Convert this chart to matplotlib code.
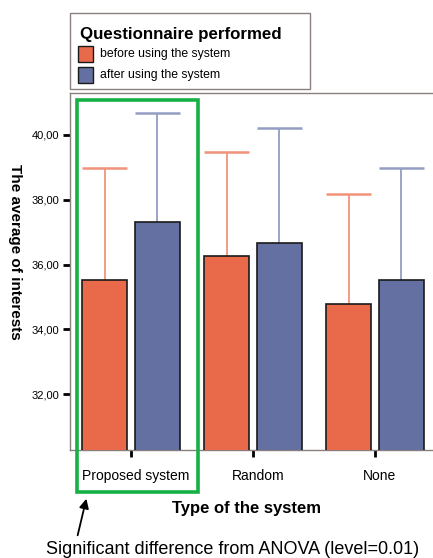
import matplotlib.pyplot as plt
from matplotlib.patches import Rectangle
import matplotlib.transforms as mtransforms
import numpy as np

plt.rcParams['font.family'] = ['Liberation Sans', 'DejaVu Sans']

# data
systems = ["Proposed system", "Random", "None"]
before_mean = [35.52, 36.26, 34.78]
before_upper = [38.98, 39.48, 38.18]
after_mean = [37.32, 36.66, 35.52]
after_upper = [40.68, 40.22, 38.97]
y_ticks = [32, 34, 36, 38, 40]
legend_title = "Questionnaire performed"
legend_labels = ["before using the system", "after using the system"]

c_before = "#e96a4a"
c_after = "#6470a1"
c_before_err = "#f2927b"
c_after_err = "#949dc2"
frame_col = "#8a7f7f"

W, H = 433, 558
fig = plt.figure(figsize=(W / 100, H / 100), dpi=100)

def px(x0, y0, x1, y1):
    return [x0 / W, 1 - y1 / H, (x1 - x0) / W, (y1 - y0) / H]

ax = fig.add_axes(px(70, 93, 436, 450))
ax.set_xlim(-0.5, 2.5)
ax.set_ylim(30.28, 41.29)

x = np.arange(len(systems))
off, bw = 0.215, 0.37
base = 29.0
for xs, means, ups, c, ce in [(x - off, before_mean, before_upper, c_before, c_before_err),
                               (x + off, after_mean, after_upper, c_after, c_after_err)]:
    ax.bar(xs, np.array(means) - base, bottom=base, width=bw, color=c,
           edgecolor="#1a1a1a", linewidth=1.2, zorder=3)
    # upper error bars only
    ax.vlines(xs, means, ups, color=ce, linewidth=1.3, zorder=2)
    ax.hlines(ups, xs - bw / 2, xs + bw / 2, color=ce, linewidth=1.8, zorder=2)

for s in ax.spines.values():
    s.set_color(frame_col)
    s.set_linewidth(1.0)

ax.set_yticks(y_ticks)
ax.set_yticklabels([f"{v:.2f}".replace(".", ",") for v in y_ticks], fontsize=8)
ax.set_xticks(x)
ax.set_xticklabels(systems, fontsize=10)
ax.tick_params(axis="y", length=5, width=2, color="black", pad=3)
ax.tick_params(axis="x", length=5, width=2, color="black", pad=9)
shift = mtransforms.ScaledTranslation(5 / 100, 0, fig.dpi_scale_trans)
for lab in ax.get_xticklabels():
    lab.set_transform(lab.get_transform() + shift)

fig.text(15 / W, 1 - 252 / H, "The average of interests", rotation=-90,
         ha="center", va="center", fontsize=11, fontweight="bold")
fig.text(246 / W, 1 - 509 / H, "Type of the system", ha="center", va="center",
         fontsize=12, fontweight="bold")

# legend box drawn by hand to match the reference frame
fig.add_artist(Rectangle((70 / W, 1 - 89 / H), 240 / W, 76 / H, transform=fig.transFigure,
                         fill=False, edgecolor=frame_col, linewidth=1.0))
fig.text(80 / W, 1 - 34 / H, legend_title, ha="left", va="center",
         fontsize=12.2, fontweight="bold")
for i, (lab, c) in enumerate(zip(legend_labels, [c_before, c_after])):
    yc = 54 + i * 21
    fig.add_artist(Rectangle((78 / W, 1 - (yc + 8) / H), 15 / W, 16 / H,
                             transform=fig.transFigure, facecolor=c,
                             edgecolor="#1a1a1a", linewidth=1.0))
    fig.text(100 / W, 1 - yc / H, lab, ha="left", va="center", fontsize=8.8)

# highlight box and note
fig.add_artist(Rectangle((77 / W, 1 - 492 / H), 121 / W, 392 / H, transform=fig.transFigure,
                         fill=False, edgecolor="#17b045", linewidth=2.6))
fig.text(46 / W, 1 - 549 / H, "Significant difference from ANOVA (level=0.01)",
         ha="left", va="center", fontsize=13)
ax.annotate("", xy=(87 / W, 1 - 496 / H), xycoords="figure fraction",
            xytext=(77 / W, 1 - 538 / H), textcoords="figure fraction",
            arrowprops=dict(arrowstyle="-|>", color="black", lw=1.3, mutation_scale=14))

fig.savefig("out.png", dpi=100)
